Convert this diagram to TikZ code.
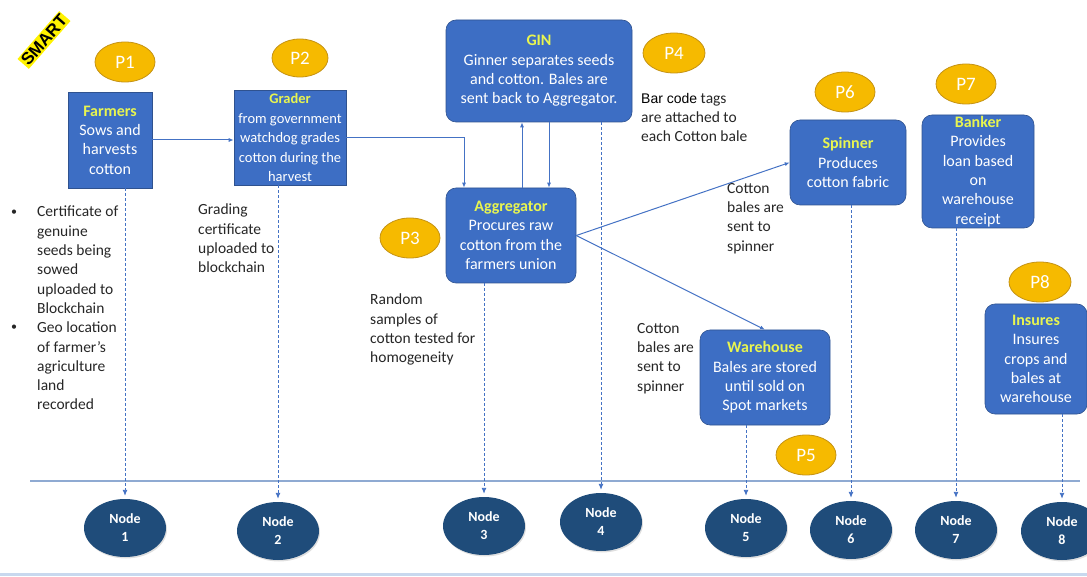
\documentclass[tikz,border=0pt]{standalone}
\usepackage{fontspec}
\setmainfont{Carlito}
\newfontfamily\smartfont{Liberation Sans}
\usetikzlibrary{shapes.geometric,arrows.meta,shadows}

\definecolor{boxblue}{RGB}{61,110,196}
\definecolor{boxedge}{RGB}{47,82,143}
\definecolor{headyellow}{RGB}{232,245,80}
\definecolor{pgold}{RGB}{246,186,0}
\definecolor{pedge}{RGB}{196,146,20}
\definecolor{navy}{RGB}{31,76,122}
\definecolor{flowblue}{RGB}{68,114,196}
\definecolor{timeline}{RGB}{143,170,210}
\definecolor{rulelight}{RGB}{200,216,238}
\definecolor{notegray}{RGB}{38,38,38}

\tikzset{
  actor/.style={draw=boxedge, line width=0.6pt, fill=boxblue, text=white,
    align=center, inner sep=0pt, font=\fontsize{16}{19.3}\selectfont},
  actorsq/.style={actor},
  actorrd/.style={actor, rounded corners=10pt},
  phase/.style={ellipse, draw=pedge, line width=0.8pt, fill=pgold, text=white,
    minimum width=60pt, minimum height=40pt, inner sep=0pt,
    font=\fontsize{19}{22}\selectfont},
  chain/.style={ellipse, fill=navy, text=white, minimum width=82pt,
    minimum height=58pt, inner sep=0pt, align=center,
    font=\bfseries\fontsize{14}{18}\selectfont,
    drop shadow={opacity=0.25, shadow xshift=1pt, shadow yshift=-1.5pt}},
  note/.style={text=notegray, align=left, anchor=north west, inner sep=0pt,
    font=\fontsize{15.5}{19.3}\selectfont},
  flow/.style={draw=flowblue, line width=1pt, -{Latex[length=5pt,width=4pt]}},
  record/.style={draw=flowblue, line width=0.9pt, dash pattern=on 3pt off 2pt,
    -{Latex[length=6pt,width=5pt]}, shorten >=3pt},
}
\newcommand{\hd}[1]{\textcolor{headyellow}{\textbf{#1}}}

\begin{document}
\begin{tikzpicture}[x=1pt,y=-1pt]
\useasboundingbox (0,0) rectangle (1087,577);

% tag in the corner
\node[fill=yellow, text=black, rotate=49, inner sep=1.5pt,
      font=\smartfont\bfseries\fontsize{17}{19}\selectfont] (smart) at (44,40) {SMART};

% timeline and lower rule
\coordinate (tl0) at (30,481);
\coordinate (tl1) at (1080,481);
\draw[timeline, line width=2.6pt] (tl0) -- (tl1);
\coordinate (bl0) at (0,574);
\coordinate (bl1) at (1087,574);
\draw[rulelight, line width=3pt] (bl0) -- (bl1);

% participants
\node[actorsq, minimum width=84pt, minimum height=96pt] (farm) at (110,140)
  {\hd{Farmers}\\Sows and\\harvests\\cotton};
\node[actorsq, minimum width=112pt, minimum height=95pt,
      font=\fontsize{14.5}{19.5}\selectfont] (grad) at (290,137.5)
  {\hd{Grader}\\from government\\watchdog grades\\cotton during the\\harvest};
\node[actorrd, minimum width=186pt, minimum height=102pt] (gin) at (539,71)
  {\hd{GIN}\\Ginner separates seeds\\and cotton. Bales are\\sent back to Aggregator.};
\node[actorrd, minimum width=130pt, minimum height=95pt] (agg) at (511,235.5)
  {\hd{Aggregator}\\Procures raw\\cotton from the\\farmers union};
\node[actorrd, minimum width=116pt, minimum height=85pt] (spin) at (848,162.5)
  {\hd{Spinner}\\Produces\\cotton fabric};
\node[actorrd, minimum width=112pt, minimum height=113pt] (bank) at (978,171.5)
  {\hd{Banker}\\Provides\\loan based\\on\\warehouse\\receipt};
\node[actorrd, minimum width=130pt, minimum height=95pt] (ware) at (765,377.5)
  {\hd{Warehouse}\\Bales are stored\\until sold on\\Spot markets};
\node[actorrd, minimum width=102pt, minimum height=110pt] (insu) at (1036,359)
  {\hd{Insures}\\Insures\\crops and\\bales at\\warehouse};

% phase markers
\node[phase] (p1) at (125,62) {P1};
\node[phase, minimum width=56pt, minimum height=38pt] (p2) at (300,58) {P2};
\node[phase] (p3) at (410,238) {P3};
\node[phase, minimum width=62pt] (p4) at (674,53) {P4};
\node[phase] (p5) at (806,455) {P5};
\node[phase] (p6) at (845,92) {P6};
\node[phase] (p7) at (966,84) {P7};
\node[phase, minimum width=62pt] (p8) at (1040,282) {P8};

% notes
\node (b1) at (14,213) {\fontsize{12}{14}\selectfont\textcolor{notegray}{\textbullet}};
\node (b2) at (14,328) {\fontsize{12}{14}\selectfont\textcolor{notegray}{\textbullet}};
\node[note] (n-farm) at (37,206) {Certificate of\\genuine\\seeds being\\sowed\\uploaded to\\Blockchain\\Geo location\\of farmer’s\\agriculture\\land\\recorded};
\node[note] (n-grad) at (198,204) {Grading\\certificate\\uploaded to\\blockchain};
\node[note] (n-agg) at (370,294) {Random\\samples of\\cotton tested for\\homogeneity};
\node[note] (n-gin) at (641,93) {\textcolor{black}{\smartfont\fontsize{14}{19.3}\selectfont Bar code} tags\\are attached to\\each Cotton bale};
\node[note] (n-spin) at (727,183) {Cotton\\bales are\\sent to\\spinner};
\node[note] (n-ware) at (637,323) {Cotton\\bales are\\sent to\\spinner};

% ledger nodes
\node[chain] (c1) at (125,528) {Node\\1};
\node[chain] (c2) at (278,531) {Node\\2};
\node[chain] (c3) at (484,526) {Node\\3};
\node[chain] (c4) at (601,522) {Node\\4};
\node[chain] (c5) at (746,528) {Node\\5};
\node[chain] (c6) at (851,530) {Node\\6};
\node[chain] (c7) at (956,530) {Node\\7};
\node[chain] (c8) at (1062,531) {Node\\8};

% goods flow
\draw[flow] (farm.east) -- (farm.east -| grad.west);
\draw[flow] (grad.east) -| ([xshift=-47pt]agg.north);
\draw[flow] ([xshift=11pt]agg.north) -- ([xshift=11pt]agg.north |- gin.south);
\draw[flow] ([xshift=10pt]gin.south) -- ([xshift=10pt]gin.south |- agg.north);
\draw[flow] (agg.east) -- (spin.west);
\draw[flow] (agg.east) -- (ware.north);

% records written to the ledger
\draw[record] (c1 |- farm.south) -- (c1.north);
\draw[record] (c2 |- grad.south) -- (c2.north);
\draw[record] (c3 |- agg.south) -- (c3.north);
\draw[record] (c4 |- gin.south) -- (c4.north);
\draw[record] (c5 |- ware.south) -- (c5.north);
\draw[record] (c6 |- spin.south) -- (c6.north);
\draw[record] (c7 |- bank.south) -- (c7.north);
\draw[record] (c8 |- insu.south) -- (c8.north);
\end{tikzpicture}
\end{document}
